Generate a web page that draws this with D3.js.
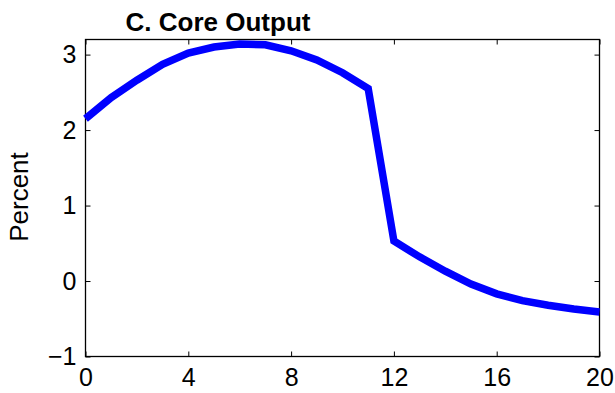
<!DOCTYPE html>
<html><head><meta charset="utf-8">
<script src="https://cdn.jsdelivr.net/npm/d3@7"></script>
<style>body{margin:0;background:#fff}</style>
</head><body><svg id="c" width="615" height="393"></svg>
<script>
const periods = d3.range(0, 21);
const coreOutput = [2.15, 2.43, 2.66, 2.87, 3.02, 3.10, 3.14, 3.13, 3.05, 2.93, 2.76, 2.55, 0.53, 0.32, 0.13, -0.04, -0.17, -0.26, -0.32, -0.37, -0.41];
const xTicks = [0, 4, 8, 12, 16, 20];
const yTicks = [-1, 0, 1, 2, 3];
const title = "C. Core Output";
const yLabel = "Percent";

const FONT = "'Liberation Sans',Arial,Helvetica,sans-serif";
const svg = d3.select("#c");
const L = 85.5, R = 599.5, T = 39.5, B = 356.5;
const x = d3.scaleLinear().domain([0, 20]).range([L, R]);
const y = d3.scaleLinear().domain([-1, 3.2]).range([B, T]);

svg.append("rect").attr("x", L).attr("y", T).attr("width", R - L).attr("height", B - T)
  .attr("fill", "none").attr("stroke", "#000").attr("stroke-width", 1.3);

const fmt = d => d < 0 ? "\u2212" + Math.abs(d) : String(d);

const xb = svg.append("g").attr("transform", `translate(0,${B})`)
  .call(d3.axisBottom(x).tickValues(xTicks).tickSize(-5).tickPadding(12).tickFormat(fmt));
const xt = svg.append("g").attr("transform", `translate(0,${T})`)
  .call(d3.axisTop(x).tickValues(xTicks).tickSize(-5).tickFormat(""));
const yl = svg.append("g").attr("transform", `translate(${L},0)`)
  .call(d3.axisLeft(y).tickValues(yTicks).tickSize(-5).tickPadding(9).tickFormat(fmt));
const yr = svg.append("g").attr("transform", `translate(${R},0)`)
  .call(d3.axisRight(y).tickValues(yTicks).tickSize(-5).tickFormat(""));
[xb, xt, yl, yr].forEach(g => {
  g.select(".domain").remove();
  g.attr("font-size", null).attr("font-family", null);
  g.selectAll("line").attr("stroke", "#000").attr("stroke-width", 1);
  g.selectAll("text").style("font-size", "25px").style("font-family", FONT).attr("fill", "#000");
});
xb.selectAll("text").attr("dy", "0.71em");

svg.append("path").datum(periods.map((p, i) => [p, coreOutput[i]]))
  .attr("fill", "none").attr("stroke", "#0000ff").attr("stroke-width", 7.5)
  .attr("stroke-linejoin", "miter")
  .attr("d", d3.line().x(d => x(d[0])).y(d => y(d[1])));

svg.append("text").attr("x", 218).attr("y", 31).attr("text-anchor", "middle")
  .style("font-size", "26px").style("font-weight", "bold").style("font-family", FONT).text(title);
svg.append("text").attr("transform", "translate(28,197) rotate(-90)")
  .attr("text-anchor", "middle").style("font-size", "26px").style("font-family", FONT).text(yLabel);
</script></body></html>
